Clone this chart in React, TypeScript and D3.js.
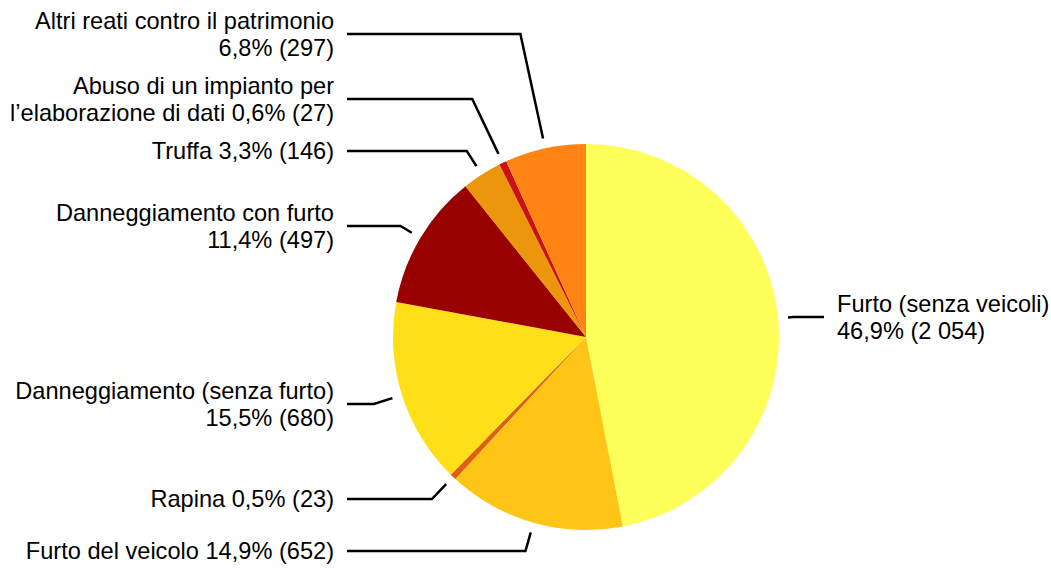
import React from "react";
import * as d3 from "d3";

const categories = [
  "Furto (senza veicoli)",
  "Furto del veicolo",
  "Rapina",
  "Danneggiamento (senza furto)",
  "Danneggiamento con furto",
  "Truffa",
  "Abuso di un impianto per l’elaborazione di dati",
  "Altri reati contro il patrimonio",
];
const values = [2054, 652, 23, 680, 497, 146, 27, 297];
const colors = ["#ffff5a", "#ffc516", "#dd5f12", "#ffdf17", "#990000", "#eb960c", "#cc1111", "#ff8413"];

// label text layout: name lines; whether value is on a new line
const nameLines = [
  ["Furto (senza veicoli)"],
  ["Furto del veicolo"],
  ["Rapina"],
  ["Danneggiamento (senza furto)"],
  ["Danneggiamento con furto"],
  ["Truffa"],
  ["Abuso di un impianto per", "l’elaborazione di dati"],
  ["Altri reati contro il patrimonio"],
];
const valueOnNewLine = [true, false, false, true, true, false, false, true];
const labelY = [317, 551, 499, 404, 226, 151, 99, 34];

const W = 1051;
const H = 568;
const cx = 586;
const cy = 337;
const R = 193;
const lineH = 27;
const fontSize = 23.6;

function fmtInt(n: number) {
  const s = String(n);
  return s.replace(/\B(?=(\d{3})+(?!\d))/g, " ");
}

export default function App() {
  const total = d3.sum(values);
  const pie = d3.pie<number>().sort(null).value((d) => d)(values);
  const arc = d3.arc<d3.PieArcDatum<number>>().innerRadius(0).outerRadius(R);

  return (
    <svg width={W} height={H} style={{ position: "absolute", left: 0, top: 0 }} fontFamily="'Liberation Sans', Arial, sans-serif" fontSize={fontSize}>
      <g transform={`translate(${cx},${cy})`}>
        {pie.map((p, i) => (
          <path key={i} d={arc(p) || ""} fill={colors[i]} />
        ))}
      </g>
      {pie.map((p, i) => {
        const mid = (p.startAngle + p.endAngle) / 2;
        const sx = Math.sin(mid);
        const sy = -Math.cos(mid);
        const r0 = R + 10;
        const x0 = cx + r0 * sx;
        const y0 = cy + r0 * sy;
        const ly = labelY[i];
        const t = Math.abs(sy) > 1e-3 ? (ly - y0) / sy : 0;
        const x1 = x0 + t * sx;
        const right = sx > 0;
        const xEnd = right ? 824 : 347;
        const pct = ((values[i] / total) * 100).toFixed(1).replace(".", ",") + "%";
        const valStr = `${pct} (${fmtInt(values[i])})`;
        const lines = nameLines[i].slice();
        if (valueOnNewLine[i]) lines.push(valStr);
        else lines[lines.length - 1] = lines[lines.length - 1] + " " + valStr;
        const tx = right ? 837 : 334;
        const y1st = ly - ((lines.length - 1) * lineH) / 2;
        return (
          <g key={"l" + i}>
            <polyline points={`${x0},${y0} ${x1},${ly} ${xEnd},${ly}`} fill="none" stroke="#000" strokeWidth={2.5} />
            <text textAnchor={right ? "start" : "end"} fill="#000">
              {lines.map((s, k) => (
                <tspan key={k} x={tx} y={y1st + k * lineH} dy="0.35em">
                  {s}
                </tspan>
              ))}
            </text>
          </g>
        );
      })}
    </svg>
  );
}
